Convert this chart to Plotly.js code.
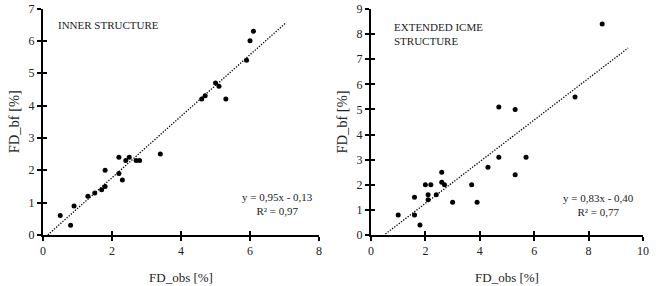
<!DOCTYPE html>
<html>
<head>
<meta charset="utf-8">
<script src="https://cdn.plot.ly/plotly-3.0.1.min.js"></script>
<style>html,body{margin:0;padding:0;background:#fff}#chart{width:664px;height:286px}</style>
</head>
<body>
<div id="chart"></div>
<script>
// Inner structure
const innerObs = [0.5,0.8,0.9,1.3,1.5,1.7,1.8,1.8,2.2,2.2,2.3,2.4,2.5,2.7,2.8,3.4,4.6,4.7,5.0,5.1,5.3,5.9,6.0,6.1];
const innerBf  = [0.6,0.3,0.9,1.2,1.3,1.4,1.5,2.0,2.4,1.9,1.7,2.3,2.4,2.3,2.3,2.5,4.2,4.3,4.7,4.6,4.2,5.4,6.0,6.3];
const innerSlope = 0.95, innerIntercept = -0.13;
const innerTrendX = [0.14, 7.05];
// Extended ICME structure
const extObs = [1.0,1.6,1.6,1.8,2.0,2.1,2.1,2.2,2.4,2.6,2.6,2.7,3.0,3.7,3.9,4.3,4.7,4.7,5.3,5.3,5.7,7.5,8.5];
const extBf  = [0.8,1.5,0.8,0.4,2.0,1.6,1.4,2.0,1.6,2.5,2.1,2.0,1.3,2.0,1.3,2.7,5.1,3.1,5.0,2.4,3.1,5.5,8.4];
const extSlope = 0.83, extIntercept = -0.40;
const extTrendX = [0.53, 9.45];

const innerTicksX = [0,2,4,6,8];
const innerTicksY = [0,1,2,3,4,5,6,7];
const extTicksX = [0,2,4,6,8,10];
const extTicksY = [0,1,2,3,4,5,6,7,8,9];

const F = 'Liberation Serif, Times New Roman, serif';
const mk = {color:'#000', size:5};
const ln = {color:'#000', width:1.3, dash:'1.3px,1.5px'};

const traces = [
  {x: innerObs, y: innerBf, type:'scatter', mode:'markers', marker: mk, xaxis:'x', yaxis:'y', hoverinfo:'skip'},
  {x: innerTrendX, y: innerTrendX.map(v => innerSlope*v + innerIntercept), type:'scatter', mode:'lines', line: ln, xaxis:'x', yaxis:'y'},
  {x: extObs, y: extBf, type:'scatter', mode:'markers', marker: mk, xaxis:'x2', yaxis:'y2'},
  {x: extTrendX, y: extTrendX.map(v => extSlope*v + extIntercept), type:'scatter', mode:'lines', line: ln, xaxis:'x2', yaxis:'y2'},
  {x: [null], y: [null], type:'scatter', mode:'markers', xaxis:'x3', yaxis:'y3', hoverinfo:'skip'},
  {x: [null], y: [null], type:'scatter', mode:'markers', xaxis:'x4', yaxis:'y4', hoverinfo:'skip'}
];

const dLx = [43/664, 319/664], dLy = [51/286, 277.5/286];
const dRx = [371/664, 643/664], dRy = [51/286, 277/286];

function mainAxis(dom, range, ticks, anchor, title, standoff, tsize) {
  return {domain: dom, range: range, tickvals: ticks, ticktext: ticks.map(String),
    anchor: anchor, showgrid:false, zeroline:false, showline:true, linecolor:'#000', linewidth:2,
    ticks:'outside', ticklen:4, tickwidth:2, tickcolor:'#000', fixedrange:true,
    tickfont:{family:F, size:12, color:'#222'},
    title:{text:title, font:{family:F, size:tsize, color:'#222'}, standoff: standoff}};
}
function overAxis(dom, range, ticks, anchor, over) {
  return {domain: dom, range: range, tickvals: ticks, anchor: anchor, overlaying: over,
    showgrid:false, zeroline:false, showline:false, showticklabels:false,
    ticks:'inside', ticklen:4, tickwidth:2, tickcolor:'#000', fixedrange:true};
}

const layout = {
  width:664, height:286, margin:{l:0,r:0,t:0,b:0},
  paper_bgcolor:'#fff', plot_bgcolor:'rgba(0,0,0,0)', showlegend:false,
  xaxis: mainAxis(dLx, [0,8], innerTicksX, 'y', 'FD_obs [%]', 15, 13),
  yaxis: mainAxis(dLy, [0,7], innerTicksY, 'x', 'FD_bf [%]', 6, 14.5),
  xaxis2: mainAxis(dRx, [0,10], extTicksX, 'y2', 'FD_obs [%]', 15, 13),
  yaxis2: mainAxis(dRy, [0,9], extTicksY, 'x2', 'FD_bf [%]', 6, 14.5),
  xaxis3: overAxis(dLx, [0,8], innerTicksX, 'y3', 'x'),
  yaxis3: overAxis(dLy, [0,7], innerTicksY, 'x3', 'y'),
  xaxis4: overAxis(dRx, [0,10], extTicksX, 'y4', 'x2'),
  yaxis4: overAxis(dRy, [0,9], extTicksY, 'x4', 'y2'),
  annotations: [
    {xref:'paper', yref:'paper', x:56/664, y:1-25/286, xanchor:'left', yanchor:'middle', showarrow:false,
     text:'INNER STRUCTURE', font:{family:F, size:11, color:'#222'}},
    {xref:'paper', yref:'paper', x:277/664, y:1-204/286, xanchor:'center', yanchor:'middle', showarrow:false, align:'center',
     text:'y = 0,95x - 0,13<br>R² = 0,97', font:{family:F, size:11, color:'#222'}},
    {xref:'paper', yref:'paper', x:392/664, y:1-34/286, xanchor:'left', yanchor:'middle', showarrow:false, align:'left',
     text:'EXTENDED ICME<br>STRUCTURE', font:{family:F, size:11, color:'#222'}},
    {xref:'paper', yref:'paper', x:598/664, y:1-205/286, xanchor:'center', yanchor:'middle', showarrow:false, align:'center',
     text:'y = 0,83x - 0,40<br>R² = 0,77', font:{family:F, size:11, color:'#222'}}
  ]
};
Plotly.newPlot('chart', traces, layout, {displayModeBar:false, staticPlot:true});
</script>
</body>
</html>
